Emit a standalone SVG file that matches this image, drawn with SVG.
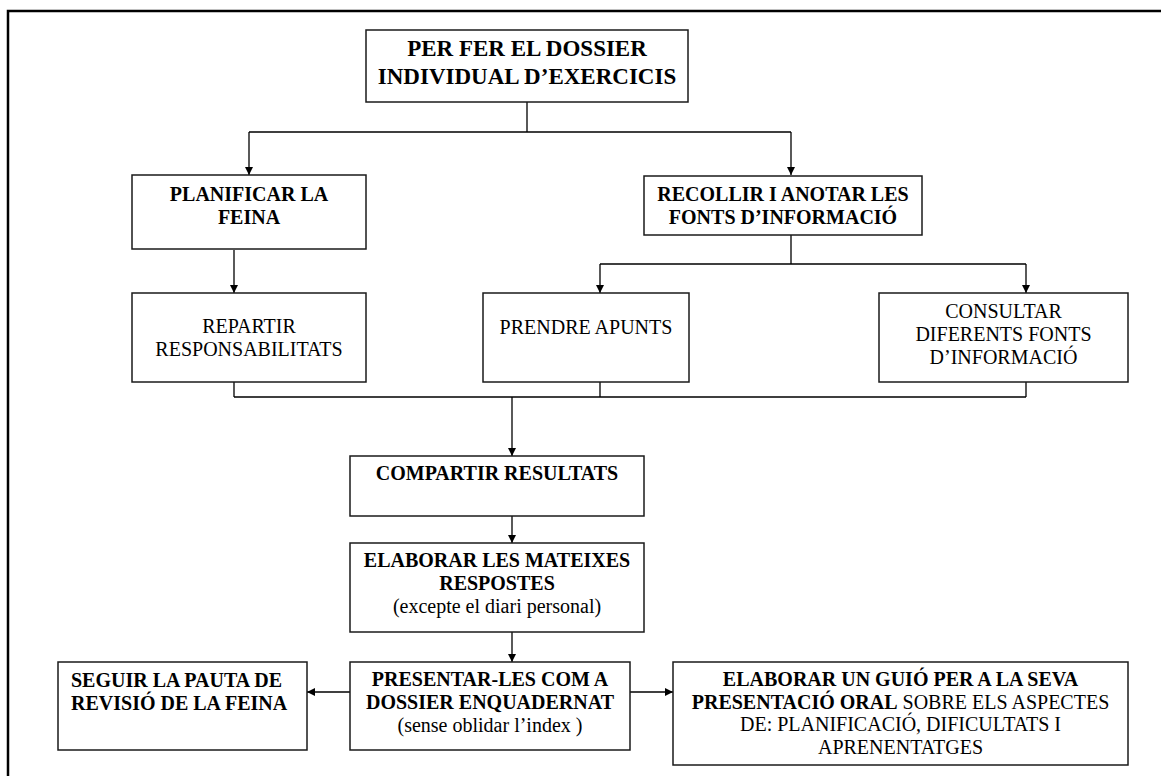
<svg xmlns="http://www.w3.org/2000/svg" width="1161" height="776" viewBox="0 0 1161 776">
<style>
.box{fill:#fff;stroke:#1a1a1a;stroke-width:1.5}
.t{font-family:"Liberation Serif","Times New Roman",serif;font-size:20px;fill:#000;text-anchor:middle}
.b{font-weight:bold}
.big{font-size:23px}
.ln{fill:none;stroke:#000;stroke-width:1.3}
</style>
<defs>
<marker id="ah" viewBox="0 0 10 10" refX="10" refY="5" markerWidth="8" markerHeight="8" markerUnits="userSpaceOnUse" orient="auto">
<path d="M0,0 L10,5 L0,10 Z" fill="#000"/>
</marker>
</defs>
<rect width="1161" height="776" fill="#fff"/>
<path d="M8,776 V11 H1161" fill="none" stroke="#000" stroke-width="2.5"/>

<g id="connectors">
<path class="ln" d="M527,102 V132 M249,132 H791"/>
<path class="ln" d="M249,132 V175" marker-end="url(#ah)"/>
<path class="ln" d="M791,132 V175" marker-end="url(#ah)"/>
<path class="ln" d="M234,250 V293" marker-end="url(#ah)"/>
<path class="ln" d="M791,235 V264 M600,264 H1026"/>
<path class="ln" d="M600,264 V293" marker-end="url(#ah)"/>
<path class="ln" d="M1026,264 V293" marker-end="url(#ah)"/>
<path class="ln" d="M234,382 V397 M600,382 V397 M1026,382 V397 M234,397 H1026"/>
<path class="ln" d="M512,397 V456" marker-end="url(#ah)"/>
<path class="ln" d="M512,516 V543" marker-end="url(#ah)"/>
<path class="ln" d="M512,632 V662" marker-end="url(#ah)"/>
<path class="ln" d="M350,692 H307" marker-end="url(#ah)"/>
<path class="ln" d="M630,692 H673" marker-end="url(#ah)"/>
</g>

<g id="n-dossier">
<rect class="box" x="366" y="30" width="322" height="72"/>
<text class="t b big" x="527" y="56">PER FER EL DOSSIER</text>
<text class="t b big" x="527" y="84">INDIVIDUAL D’EXERCICIS</text>
</g>

<g id="n-planificar">
<rect class="box" x="132" y="175" width="234" height="74"/>
<text class="t b" x="249" y="201">PLANIFICAR LA</text>
<text class="t b" x="249" y="224">FEINA</text>
</g>

<g id="n-recollir">
<rect class="box" x="644" y="176" width="278" height="59"/>
<text class="t b" x="783" y="201">RECOLLIR I ANOTAR LES</text>
<text class="t b" x="783" y="224">FONTS D’INFORMACIÓ</text>
</g>

<g id="n-repartir">
<rect class="box" x="132" y="293" width="234" height="89"/>
<text class="t" x="249" y="333">REPARTIR</text>
<text class="t" x="249" y="356">RESPONSABILITATS</text>
</g>

<g id="n-prendre">
<rect class="box" x="483" y="293" width="206" height="89"/>
<text class="t" x="586" y="334">PRENDRE APUNTS</text>
</g>

<g id="n-consultar">
<rect class="box" x="879" y="293" width="249" height="89"/>
<text class="t" x="1003.5" y="318">CONSULTAR</text>
<text class="t" x="1003.5" y="341">DIFERENTS FONTS</text>
<text class="t" x="1003.5" y="364">D’INFORMACIÓ</text>
</g>

<g id="n-compartir">
<rect class="box" x="350" y="456" width="294" height="60"/>
<text class="t b" x="497" y="480">COMPARTIR RESULTATS</text>
</g>

<g id="n-elaborar">
<rect class="box" x="350" y="543" width="294" height="89"/>
<text class="t b" x="497" y="567">ELABORAR LES MATEIXES</text>
<text class="t b" x="497" y="590">RESPOSTES</text>
<text class="t" x="497" y="613">(excepte el diari personal)</text>
</g>

<g id="n-seguir">
<rect class="box" x="58" y="662" width="249" height="88"/>
<text class="t b" x="71" y="687" text-anchor="start" style="text-anchor:start">SEGUIR LA PAUTA DE</text>
<text class="t b" x="71" y="710" text-anchor="start" style="text-anchor:start">REVISIÓ DE LA FEINA</text>
</g>

<g id="n-presentar">
<rect class="box" x="350" y="662" width="280" height="88"/>
<text class="t b" x="490" y="686">PRESENTAR-LES COM A</text>
<text class="t b" x="490" y="709">DOSSIER ENQUADERNAT</text>
<text class="t" x="490" y="732">(sense oblidar l’index )</text>
</g>

<g id="n-guio">
<rect class="box" x="673" y="662" width="455" height="103"/>
<text class="t b" x="900.5" y="686">ELABORAR UN GUIÓ PER A LA SEVA</text>
<text class="t" x="900.5" y="709"><tspan font-weight="bold">PRESENTACIÓ ORAL</tspan> SOBRE ELS ASPECTES</text>
<text class="t" x="900.5" y="731">DE: PLANIFICACIÓ, DIFICULTATS I</text>
<text class="t" x="900.5" y="754">APRENENTATGES</text>
</g>
</svg>
